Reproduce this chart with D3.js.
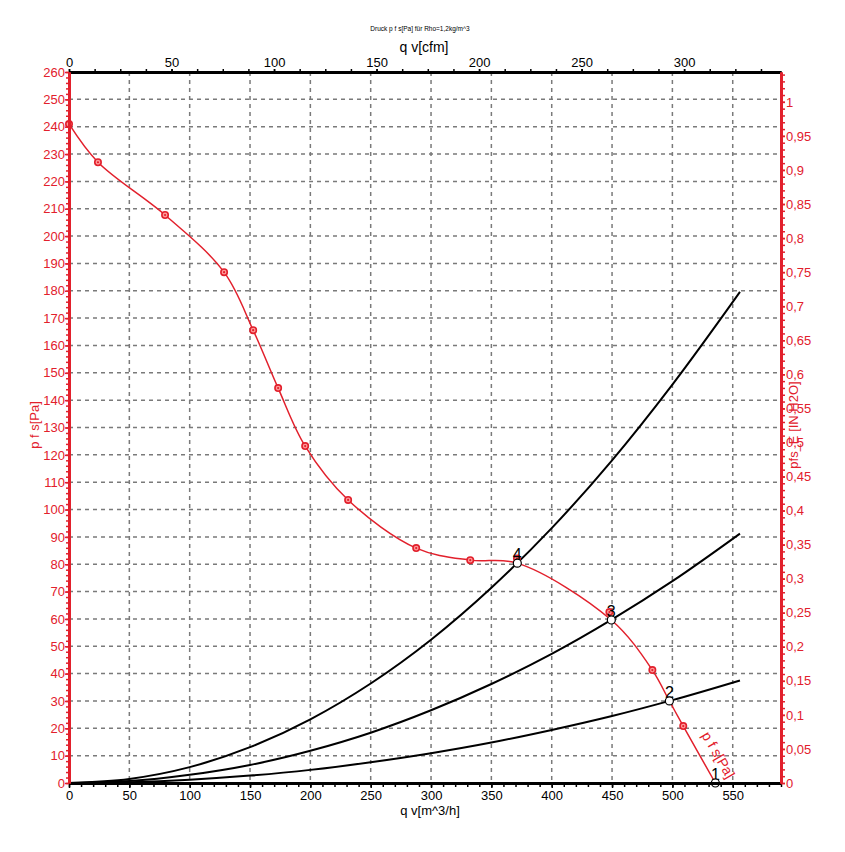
<!DOCTYPE html>
<html>
<head>
<meta charset="utf-8">
<script src="https://cdn.jsdelivr.net/npm/d3@7"></script>
<style>
  body { margin: 0; background: #fff; }
  text { font-family: Arial, "Liberation Sans", sans-serif; }
</style>
</head>
<body>
<div id="chart"></div>
<script>
// ---- data ----
// fan curve markers (q v [m^3/h], p f s [Pa])
const fanQ = [0, 24, 79.6, 128.5, 152.6, 173.3, 195.7, 231.3, 287.7, 332.5, 371.2, 447.8, 483.4, 509];
const fanP = [241, 227, 207.7, 186.8, 165.6, 144.4, 123.2, 103.5, 85.9, 81.5, 82.1, 62.5, 41.3, 20.8];
// smooth fan line through the operating points
const lineQ = [0, 24, 79.6, 128.5, 152.6, 173.3, 195.7, 231.3, 287.7, 332.5, 371.5, 449.4, 483.4, 497.5, 509, 535.6];
const lineP = [241, 227, 207.7, 186.8, 165.6, 144.4, 123.2, 103.5, 85.9, 81.5, 80.4, 59.6, 41.3, 30, 20.8, 0];
// system curves
const sysQ  = [0, 50, 100, 150, 200, 250, 300, 350, 400, 450, 500, 556];
const sys4P = [0, 1.5, 5.8, 13.1, 23.3, 36.4, 52.4, 71.4, 93.2, 118, 145.7, 179.6];
const sys3P = [0, 0.7, 3.0, 6.6, 11.8, 18.4, 26.6, 36.2, 47.2, 59.8, 73.8, 91.2];
const sys2P = [0, 0.3, 1.2, 2.7, 4.8, 7.6, 10.9, 14.8, 19.4, 24.5, 30.3, 37.5];
// operating points
const opQ = [535.6, 497.5, 449.4, 371.5];
const opP = [0, 30, 59.6, 80.4];
const opLabels = ["1", "2", "3", "4"];

const qTicks = d3.range(0, 551, 50);
const pTicks = d3.range(0, 261, 10);
const cfmTicks = d3.range(0, 301, 50);
const inTicks = d3.range(0, 21).map(d => d * 0.05);

const RED = "#e2202c";
const M3H_PER_CFM = 1.699;
const PA_PER_INH2O = 249.09;

const W = 845, H = 852;
const mLeft = 69, mRight = 781, mTop = 72, mBottom = 783;

const svg = d3.select("#chart").append("svg")
  .attr("width", W).attr("height", H);

const x = d3.scaleLinear().domain([0, 590]).range([mLeft, mRight]);
const y = d3.scaleLinear().domain([0, 260]).range([mBottom, mTop]);
const xc = d3.scaleLinear().domain([0, 590 / M3H_PER_CFM]).range([mLeft, mRight]);
const yi = d3.scaleLinear().domain([0, 260 / PA_PER_INH2O]).range([mBottom, mTop]);

//// grid
const grid = svg.append("g")
  .attr("stroke", "#7a7a7a").attr("stroke-width", 1.5).attr("stroke-dasharray", "4,4");
grid.selectAll(".vg").data(qTicks.filter(d => d > 0)).enter().append("line")
  .attr("x1", d => x(d)).attr("x2", d => x(d)).attr("y1", mTop).attr("y2", mBottom);
grid.selectAll(".hg").data(pTicks.filter(d => d > 0 && d < 260)).enter().append("line")
  .attr("y1", d => y(d)).attr("y2", d => y(d)).attr("x1", mLeft).attr("x2", mRight);

//// system curves
const sysLine = d3.line().x(d => x(d[0])).y(d => y(d[1])).curve(d3.curveMonotoneX);
[sys4P, sys3P, sys2P].forEach(ps => {
  svg.append("path")
    .attr("d", sysLine(sysQ.map((q, i) => [q, ps[i]])))
    .attr("fill", "none").attr("stroke", "#000").attr("stroke-width", 2);
});

//// fan curve
svg.append("path")
  .attr("d", d3.line().x(d => x(d[0])).y(d => y(d[1])).curve(d3.curveCatmullRom.alpha(0.5))(lineQ.map((q, i) => [q, lineP[i]])))
  .attr("fill", "none").attr("stroke", RED).attr("stroke-width", 1.5);

const mk = svg.append("g");
fanQ.forEach((q, i) => {
  mk.append("circle").attr("cx", x(q)).attr("cy", y(fanP[i])).attr("r", 3.2)
    .attr("fill", "#ff9a9a").attr("stroke", RED).attr("stroke-width", 1.6);
  mk.append("circle").attr("cx", x(q)).attr("cy", y(fanP[i])).attr("r", 1.1).attr("fill", RED);
});

//// operating points
opQ.forEach((q, i) => {
  svg.append("text").attr("x", x(q)).attr("y", y(opP[i]) - 3)
    .attr("text-anchor", "middle").style("font-size", "16px").attr("fill", "#000")
    .text(opLabels[i]);
  svg.append("circle").attr("cx", x(q)).attr("cy", y(opP[i])).attr("r", 4)
    .attr("fill", "#fff").attr("stroke", "#000").attr("stroke-width", 1.2);
});

// curve label along the fan line
svg.append("text")
  .attr("transform", "translate(" + x(524) + "," + y(17.5) + ") rotate(60)")
  .style("font-size", "14px").attr("fill", RED)
  .text("p f s[Pa]");

//// axes
function styleAxis(g, color, width) {
  g.select(".domain").attr("stroke", color).attr("stroke-width", width);
  g.selectAll(".tick line").attr("stroke", color).attr("stroke-width", 1.5);
  g.selectAll(".tick text").attr("fill", color).style("font-size", "13px")
    .style("font-family", "Arial, 'Liberation Sans', sans-serif");
}

// bottom minor + major
svg.append("g").attr("transform", "translate(0," + mBottom + ")")
  .call(d3.axisBottom(x).tickValues(d3.range(0, 591, 10)).tickSize(4).tickSizeOuter(0).tickFormat(""))
  .call(g => styleAxis(g, "#000", 3));
svg.append("g").attr("transform", "translate(0," + mBottom + ")")
  .call(d3.axisBottom(x).tickValues(qTicks).tickSize(5).tickPadding(3).tickSizeOuter(0))
  .call(g => styleAxis(g, "#000", 3));

// top minor + major (cfm)
svg.append("g").attr("transform", "translate(0," + mTop + ")")
  .call(d3.axisTop(xc).tickValues(d3.range(0, 347, 12.5)).tickSize(3).tickSizeOuter(0).tickFormat(""))
  .call(g => styleAxis(g, "#000", 3));
svg.append("g").attr("transform", "translate(0," + mTop + ")")
  .call(d3.axisTop(xc).tickValues(cfmTicks).tickSize(3).tickPadding(2).tickSizeOuter(0))
  .call(g => styleAxis(g, "#000", 3));

// left (Pa)
svg.append("g").attr("transform", "translate(" + mLeft + ",0)")
  .call(d3.axisLeft(y).tickValues(d3.range(0, 261, 2)).tickSize(3).tickSizeOuter(0).tickFormat(""))
  .call(g => styleAxis(g, RED, 3));
svg.append("g").attr("transform", "translate(" + mLeft + ",0)")
  .call(d3.axisLeft(y).tickValues(pTicks).tickSize(4).tickPadding(0).tickSizeOuter(0))
  .call(g => styleAxis(g, RED, 3));

// right (in H2O)
const commaFmt = d => d3.format(".2~f")(d).replace(".", ",");
svg.append("g").attr("transform", "translate(" + mRight + ",0)")
  .call(d3.axisRight(yi).tickValues(d3.range(0, 105).map(d => d * 0.01)).tickSize(4).tickSizeOuter(0).tickFormat(""))
  .call(g => styleAxis(g, RED, 3));
svg.append("g").attr("transform", "translate(" + mRight + ",0)")
  .call(d3.axisRight(yi).tickValues(inTicks).tickSize(4).tickPadding(1).tickSizeOuter(0).tickFormat(commaFmt))
  .call(g => styleAxis(g, RED, 3));

//// titles
svg.append("text").attr("x", 420).attr("y", 31).attr("text-anchor", "middle")
  .style("font-size", "6.5px").attr("fill", "#000")
  .text("Druck p f s[Pa] für Rho=1,2kg/m^3");
svg.append("text").attr("x", 424).attr("y", 52).attr("text-anchor", "middle")
  .style("font-size", "14px").attr("fill", "#000")
  .text("q v[cfm]");
svg.append("text").attr("x", 430).attr("y", 815).attr("text-anchor", "middle")
  .style("font-size", "13px").attr("fill", "#000")
  .text("q v[m^3/h]");
svg.append("text").attr("transform", "translate(39,425) rotate(-90)").attr("text-anchor", "middle")
  .style("font-size", "13px").attr("fill", RED)
  .text("p f s[Pa]");
svg.append("text").attr("transform", "translate(798,425) rotate(-90)").attr("text-anchor", "middle")
  .style("font-size", "13px").attr("fill", RED)
  .text("pfs_E [IN H2O]");
</script>
</body>
</html>
